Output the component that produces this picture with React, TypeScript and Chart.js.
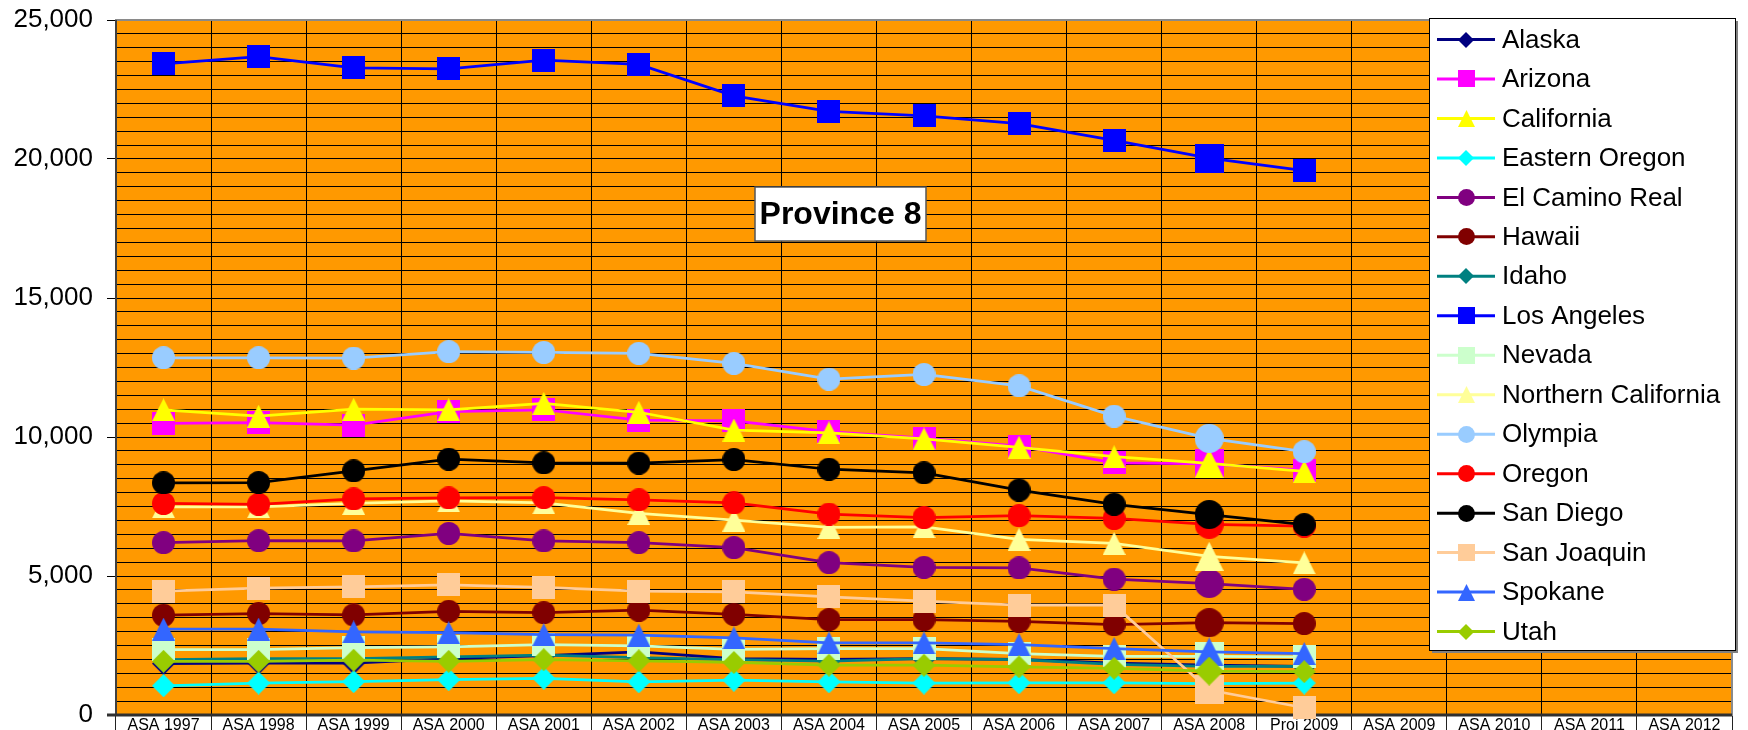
import React, { useEffect, useRef } from 'react';
import { Chart, registerables } from 'chart.js';

Chart.register(...registerables);

const categories = [
  'ASA 1997', 'ASA 1998', 'ASA 1999', 'ASA 2000', 'ASA 2001', 'ASA 2002', 'ASA 2003',
  'ASA 2004', 'ASA 2005', 'ASA 2006', 'ASA 2007', 'ASA 2008', 'Proj 2009',
  'ASA 2009', 'ASA 2010', 'ASA 2011', 'ASA 2012',
];

const yTickValues = [0, 5000, 10000, 15000, 20000, 25000];

const alaska = [1850, 1870, 1870, 2030, 2140, 2270, 2030, 2000, 2030, 2000, 1870, 1790, 1750];
const arizona = [10490, 10520, 10430, 10910, 10980, 10610, 10580, 10190, 9960, 9670, 9070, 9030, 8810];
const california = [10980, 10750, 11000, 10980, 11210, 10890, 10250, 10150, 9930, 9630, 9290, 9050, 8760];
const easternOregon = [1050, 1150, 1200, 1270, 1320, 1190, 1250, 1190, 1150, 1160, 1160, 1130, 1150];
const elCaminoReal = [6200, 6270, 6260, 6530, 6260, 6200, 6020, 5480, 5310, 5290, 4890, 4730, 4520];
const hawaii = [3590, 3650, 3600, 3730, 3680, 3770, 3620, 3430, 3430, 3370, 3250, 3320, 3290];
const idaho = [1990, 2030, 2030, 2090, 2150, 2060, 1990, 1940, 2030, 1990, 1820, 1750, 1750];
const losAngeles = [23420, 23680, 23280, 23240, 23560, 23400, 22270, 21710, 21550, 21270, 20670, 20030, 19580];
const nevada = [2350, 2350, 2420, 2450, 2530, 2490, 2360, 2390, 2390, 2210, 2110, 2110, 2090];
const northernCalifornia = [7490, 7490, 7610, 7700, 7630, 7250, 7010, 6750, 6770, 6320, 6170, 5710, 5470];
const olympia = [12850, 12850, 12840, 13070, 13040, 13010, 12650, 12080, 12250, 11840, 10750, 9950, 9470];
const oregon = [7610, 7580, 7770, 7810, 7820, 7740, 7630, 7230, 7100, 7170, 7070, 6860, 6790];
const sanDiego = [8350, 8360, 8780, 9200, 9070, 9060, 9190, 8840, 8710, 8090, 7580, 7210, 6850];
const sanJoaquin = [4460, 4560, 4610, 4680, 4590, 4460, 4430, 4250, 4100, 3950, 3950, 900, 260];
const spokane = [3090, 3090, 2990, 2960, 2890, 2870, 2770, 2590, 2590, 2530, 2390, 2270, 2210];
const utah = [1930, 1930, 1970, 1930, 1990, 1950, 1890, 1790, 1790, 1730, 1680, 1580, 1560];

const seriesNames = [
  'Alaska', 'Arizona', 'California', 'Eastern Oregon', 'El Camino Real', 'Hawaii', 'Idaho',
  'Los Angeles', 'Nevada', 'Northern California', 'Olympia', 'Oregon', 'San Diego',
  'San Joaquin', 'Spokane', 'Utah',
];
const seriesValues = [
  alaska, arizona, california, easternOregon, elCaminoReal, hawaii, idaho, losAngeles,
  nevada, northernCalifornia, olympia, oregon, sanDiego, sanJoaquin, spokane, utah,
];

// styles (kept separate from data)
const seriesColors = [
  '#000080', '#FF00FF', '#FFFF00', '#00FFFF', '#800080', '#800000', '#008080', '#0000FF',
  '#CCFFCC', '#FFFF99', '#99CCFF', '#FF0000', '#000000', '#FFCC99', '#3366FF', '#99CC00',
];
const seriesShapes = [
  'diamond', 'square', 'triangle', 'diamond', 'circle', 'circle', 'diamond', 'square',
  'square', 'triangle', 'circle', 'circle', 'circle', 'square', 'triangle', 'diamond',
];

const FONT = "'Liberation Sans', Arial, sans-serif";
const W = 1748;
const H = 730;

function makeMarker(shape: string, color: string, w: number, h: number) {
  const c = document.createElement('canvas');
  c.width = w;
  c.height = h;
  const g = c.getContext('2d')!;
  g.fillStyle = color;
  g.beginPath();
  if (shape === 'square') {
    g.rect(0, 0, w, h);
  } else if (shape === 'circle') {
    g.ellipse(w / 2, h / 2, w / 2, h / 2, 0, 0, Math.PI * 2);
  } else if (shape === 'triangle') {
    g.moveTo(w / 2, 0);
    g.lineTo(w, h);
    g.lineTo(0, h);
    g.closePath();
  } else {
    g.moveTo(w / 2, 0);
    g.lineTo(w, h / 2);
    g.lineTo(w / 2, h);
    g.lineTo(0, h / 2);
    g.closePath();
  }
  g.fill();
  return c;
}

const plotPlugin = {
  id: 'plotFrame',
  beforeDraw(chart: any) {
    const { ctx, chartArea: a } = chart;
    ctx.save();
    ctx.fillStyle = '#FF9900';
    ctx.fillRect(a.left, a.top, a.right - a.left, a.bottom - a.top);
    ctx.restore();
  },
  beforeDatasetsDraw(chart: any) {
    const { ctx, chartArea: a } = chart;
    ctx.save();
    ctx.strokeStyle = '#8a8a8a';
    ctx.lineWidth = 2;
    ctx.strokeRect(a.left, a.top, a.right - a.left, a.bottom - a.top);
    ctx.strokeStyle = '#404040';
    ctx.lineWidth = 2;
    ctx.beginPath();
    ctx.moveTo(a.left, a.top);
    ctx.lineTo(a.left, a.bottom);
    ctx.stroke();
    ctx.strokeStyle = '#303030';
    ctx.lineWidth = 3;
    ctx.beginPath();
    ctx.moveTo(a.left - 9, a.bottom);
    ctx.lineTo(a.right, a.bottom);
    ctx.stroke();
    ctx.restore();
  },
};

const overlayPlugin = {
  id: 'overlay',
  afterDraw(chart: any) {
    const { ctx } = chart;
    ctx.save();
    // Title box
    ctx.fillStyle = '#ffffff';
    ctx.fillRect(755, 187, 171, 54);
    ctx.strokeStyle = '#555555';
    ctx.lineWidth = 1.5;
    ctx.strokeRect(755, 187, 171, 54);
    ctx.fillStyle = '#000000';
    ctx.font = `bold 32px ${FONT}`;
    ctx.textAlign = 'center';
    ctx.textBaseline = 'middle';
    ctx.fillText('Province 8', 840.5, 215);

    // Legend box
    const lx = 1429, ly = 18, lw = 306, lh = 632;
    ctx.fillStyle = '#808080';
    ctx.fillRect(lx + 3, ly + 3, lw, lh);
    ctx.fillStyle = '#ffffff';
    ctx.fillRect(lx, ly, lw, lh);
    ctx.strokeStyle = '#000000';
    ctx.lineWidth = 1;
    ctx.strokeRect(lx + 0.5, ly + 0.5, lw, lh);
    ctx.font = `26px ${FONT}`;
    ctx.textAlign = 'left';
    ctx.textBaseline = 'middle';
    chart.data.datasets.forEach((ds: any, i: number) => {
      const y = 39.5 + i * 39.47;
      ctx.strokeStyle = ds.borderColor;
      ctx.lineWidth = 3;
      ctx.beginPath();
      ctx.moveTo(1437, y);
      ctx.lineTo(1495, y);
      ctx.stroke();
      const m = ds._legendMarker;
      ctx.drawImage(m, Math.round(1466 - m.width / 2), Math.round(y - m.height / 2));
      ctx.fillStyle = '#000000';
      ctx.fillText(ds.label, 1502, y + 1);
    });
    ctx.restore();
  },
};

export default function App() {
  const ref = useRef<HTMLCanvasElement | null>(null);

  useEffect(() => {
    document.body.style.margin = '0';
    const canvas = ref.current!;
    const datasets = seriesNames.map((name, si) => {
      const color = seriesColors[si];
      const shape = seriesShapes[si];
      const normal = makeMarker(shape, color, 23, 23);
      const big = makeMarker(shape, color, 29, 29);
      const legendSize = shape === 'diamond' ? 16 : 17;
      const legend = makeMarker(shape, color, legendSize, legendSize);
      const values = seriesValues[si];
      const data = categories.map((_, i) => (i < values.length ? values[i] : null));
      return {
        label: name,
        data,
        borderColor: color,
        backgroundColor: color,
        borderWidth: 2.75,
        pointStyle: data.map((_, i) => (i === 11 ? big : normal)),
        pointRadius: 12,
        tension: 0,
        clip: false,
        order: seriesNames.length - si,
        _legendMarker: legend,
      } as any;
    });

    const chart = new Chart(canvas, {
      type: 'line',
      data: { labels: categories, datasets },
      plugins: [plotPlugin, overlayPlugin],
      options: {
        responsive: false,
        animation: false,
        devicePixelRatio: 1,
        events: [],
        layout: { padding: { top: 20, right: 16, left: 0, bottom: 0 } },
        plugins: {
          legend: { display: false },
          title: { display: false },
          tooltip: { enabled: false },
        },
        scales: {
          x: {
            type: 'category',
            offset: true,
            border: { display: false },
            grid: {
              offset: true,
              color: '#000000',
              lineWidth: 1,
              drawTicks: true,
              tickLength: 20,
              tickColor: '#222222',
            },
            ticks: {
              autoSkip: false,
              maxRotation: 0,
              minRotation: 0,
              padding: -19,
              color: '#000000',
              font: { family: FONT, size: 16 },
            },
            afterFit(scale: any) {
              scale.height = 15;
              scale.paddingLeft = 0;
              scale.paddingRight = 0;
            },
          },
          y: {
            min: 0,
            max: 25000,
            border: { display: false },
            grid: {
              color: '#000000',
              lineWidth: 1,
              drawTicks: true,
              tickLength: 9,
              tickColor: (c: any) =>
                c.tick && yTickValues.includes(c.tick.value) ? '#000000' : 'rgba(0,0,0,0)',
            },
            ticks: {
              stepSize: 500,
              autoSkip: false,
              padding: 14,
              color: '#000000',
              font: { family: FONT, size: 26 },
              callback: (v: any) =>
                yTickValues.includes(Number(v)) ? Number(v).toLocaleString('en-US') : '',
            },
            afterFit(scale: any) {
              scale.width = 116;
              scale.paddingTop = 0;
              scale.paddingBottom = 0;
            },
          },
        },
      } as any,
    });
    return () => chart.destroy();
  }, []);

  return (
    <div style={{ position: 'fixed', left: 0, top: 0, width: W, height: H, background: '#ffffff' }}>
      <canvas ref={ref} width={W} height={H} style={{ display: 'block', width: W, height: H }} />
    </div>
  );
}
